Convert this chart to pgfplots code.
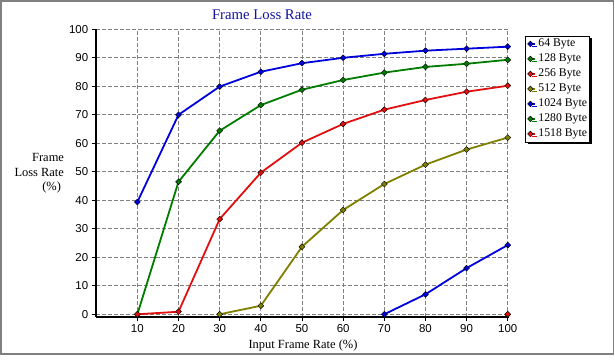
\documentclass[border=0pt]{standalone}
\usepackage{fontspec}
\setmainfont{Liberation Serif}
\newfontfamily\ticksf{Liberation Sans}
\usepackage{pgfplots}
\pgfplotsset{compat=1.18}
\usetikzlibrary{shadows}
\definecolor{cblue}{RGB}{0,0,220}
\definecolor{cgreen}{RGB}{0,125,0}
\definecolor{cred}{RGB}{225,15,15}
\definecolor{colive}{RGB}{128,128,0}
\definecolor{ctitle}{RGB}{20,20,160}
\definecolor{cgrid}{RGB}{128,128,128}
\pgfplotsset{ser/.style={#1, line width=1.8bp, mark=square*, mark size=2.1bp,
  mark options={rotate=45, fill=#1, draw=black, line width=0.4bp, solid}}}
\newcommand{\lk}{\kern2.5bp}
\begin{document}
\begin{tikzpicture}[x=1bp,y=1bp]
\useasboundingbox (0,0) rectangle (615,359);
\fill[white] (0,0) rectangle (615,359);
\draw[gray, line width=1.2bp] (1,358) rectangle (613.5,5);
\begin{axis}[
  at={(96.2bp,42.3bp)}, anchor=south west,
  scale only axis, width=413.2bp, height=287.4bp,
  xmin=0, xmax=100.4, ymin=-0.85, ymax=100,
  xtick={10,20,...,100}, ytick={0,10,...,100},
  axis x line*=bottom, axis y line*=left,
  axis line style={line width=2.2bp, -},
  tick align=outside, major tick length=4.5bp,
  tick style={black, line width=0.9bp},
  grid=major, major grid style={cgrid, line width=0.8bp, dash pattern=on 3.5bp off 2.5bp},
  /pgf/number format/assume math mode=true,
  ticklabel style={font=\ticksf\fontsize{11.5}{12}\selectfont},
  clip=false,
  legend style={at={(1.0380,0.9784)}, anchor=north west, draw=black, line width=0.9bp,
    fill=white, font=\fontsize{11.8}{12}\selectfont, row sep=3bp, inner sep=2bp,
    nodes={inner sep=0.5bp, text height=8.5bp, text depth=2.5bp},
    cells={anchor=west},
    general shadow={fill=black, shadow xshift=2.5bp, shadow yshift=-2.5bp}},
  legend image code/.code={
    \draw[#1, line width=1.4bp] (1bp,0bp) -- (6.5bp,0bp);
    \draw[#1, mark size=2bp] plot coordinates {(2.2bp,0bp)};},
]
\addplot[ser=cblue] coordinates {(10,39.4)(20,70.0)(30,79.9)(40,85.1)(50,88.1)(60,90.0)(70,91.4)(80,92.5)(90,93.2)(100,93.9)};
\addlegendentry{\lk 64 Byte}
\addplot[ser=cgreen] coordinates {(10,0)(20,46.5)(30,64.4)(40,73.4)(50,78.8)(60,82.2)(70,84.8)(80,86.8)(90,87.9)(100,89.3)};
\addlegendentry{\lk 128 Byte}
\addplot[ser=cred] coordinates {(10,0)(20,0.9)(30,33.4)(40,49.7)(50,60.2)(60,66.8)(70,71.8)(80,75.2)(90,78.1)(100,80.2)};
\addlegendentry{\lk 256 Byte}
\addplot[ser=colive] coordinates {(30,0)(40,3.0)(50,23.7)(60,36.6)(70,45.7)(80,52.5)(90,57.8)(100,62.0)};
\addlegendentry{\lk 512 Byte}
\addplot[ser=cblue] coordinates {(70,0)(80,7.0)(90,16.2)(100,24.3)};
\addlegendentry{\lk 1024 Byte}
\addplot[ser=cgreen] coordinates {(100,0)};
\addlegendentry{\lk 1280 Byte}
\addplot[ser=cred] coordinates {(100,0)};
\addlegendentry{\lk 1518 Byte}
\end{axis}
\node[font=\fontsize{14.8}{16}\selectfont, text=ctitle] at (262,344) {Frame Loss Rate};
\node[font=\fontsize{12.5}{14.5}\selectfont, align=right, anchor=east] at (67.5,185.5) {Frame\\Loss Rate\\(\%)\kern3bp};
\node[font=\fontsize{12.5}{14}\selectfont] at (303,14) {Input Frame Rate (\%)};
\end{tikzpicture}
\end{document}
